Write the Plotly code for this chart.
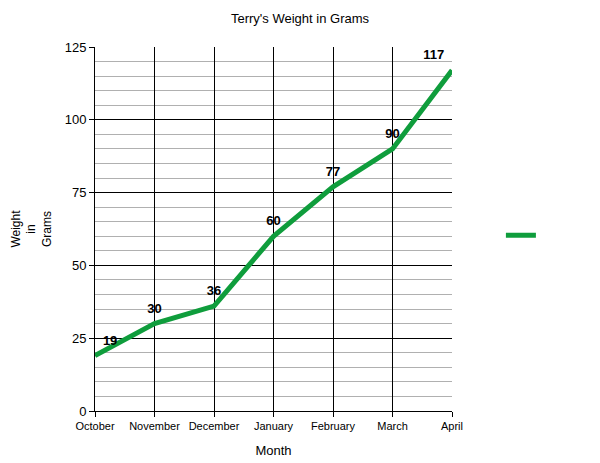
import plotly.graph_objects as go

# Terry's weight readings, one per month
months = ["October", "November", "December", "January", "February", "March", "April"]
weights = [19, 30, 36, 60, 77, 90, 117]

label_pos = ["top right"] + ["top center"] * 5 + ["top left"]

fig = go.Figure()
fig.add_trace(go.Scatter(
    x=months, y=weights, mode="lines+markers+text", name=" ",
    line=dict(color="#0f9d3c", width=5),
    # invisible markers just push the bold labels up off the line
    marker=dict(size=11, color="rgba(0,0,0,0)"),
    text=[str(w) for w in weights], textposition=label_pos,
    textfont=dict(family="Liberation Sans, Arial", size=13, color="#000000"),
    texttemplate="<b>%{text}</b>", cliponaxis=False,
    showlegend=True,
))

fig.update_layout(
    width=600, height=463,
    paper_bgcolor="white", plot_bgcolor="white",
    font=dict(family="Liberation Sans, Arial", color="#000000"),
    title=dict(text="Terry's Weight in Grams", x=0.5, xanchor="center",
               yref="container", y=1 - 18 / 463, yanchor="middle",
               font=dict(size=13, color="#000000")),
    margin=dict(l=95, r=148, t=47, b=52, autoexpand=False),
    legend=dict(x=1.137, y=0.483, xanchor="left", yanchor="middle",
                bgcolor="rgba(0,0,0,0)", font=dict(size=11)),
    xaxis=dict(
        title=dict(text="Month", font=dict(size=13), standoff=14),
        showgrid=True, gridcolor="#000000", gridwidth=1,
        showline=True, linecolor="#000000", linewidth=1,
        ticks="outside", ticklen=5, tickcolor="#000000",
        tickfont=dict(size=11), range=[0, 6], zeroline=False,
        automargin=False,
    ),
    yaxis=dict(
        title=dict(text="Weight<br>in<br>Grams", font=dict(size=12), standoff=10),
        range=[0, 125], dtick=25,
        showgrid=True, gridcolor="#000000", gridwidth=1,
        minor=dict(dtick=5, showgrid=True, gridcolor="#b0b0b0", gridwidth=1),
        showline=True, linecolor="#000000", linewidth=1,
        ticks="outside", ticklen=5, tickcolor="#000000",
        tickfont=dict(size=13), zeroline=False,
        automargin=False,
    ),
)
fig.update_xaxes(type="category")

# drop the browser's default 8px body margin so the figure sits at the corner
fig.write_html("out.html", config={"displayModeBar": False},
               post_script="document.body.style.margin='0';")
